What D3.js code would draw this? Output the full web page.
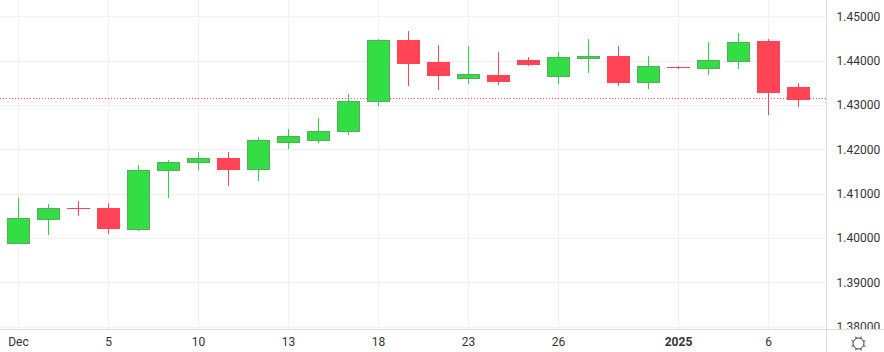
<!DOCTYPE html>
<html>
<head>
<meta charset="utf-8">
<script src="https://cdn.jsdelivr.net/npm/d3@7"></script>
<style>
  html, body { margin: 0; padding: 0; background: #fff; overflow: hidden; }
  text { font-family: Roboto, sans-serif; }
</style>
</head>
<body>
<div id="chart"></div>
<script>
const dates = ["12-02","12-03","12-04","12-05","12-06","12-09","12-10","12-11","12-12","12-13","12-16","12-17","12-18","12-19","12-20","12-23","12-24","12-25","12-26","12-27","12-30","12-31","01-01","01-02","01-03","01-06","01-07"];
const opens = [1.39873,1.40412,1.40669,1.40669,1.40209,1.41517,1.41697,1.41804,1.41540,1.42172,1.42210,1.42413,1.43073,1.44466,1.43969,1.43608,1.43676,1.44014,1.43653,1.44037,1.44105,1.43518,1.43856,1.43834,1.43991,1.44443,1.43405];
const highs = [1.40903,1.40766,1.40834,1.40789,1.41645,1.41758,1.41939,1.41939,1.42277,1.42458,1.42706,1.43249,1.44488,1.44669,1.44352,1.44330,1.44193,1.44080,1.44193,1.44488,1.44330,1.44105,1.43879,1.44420,1.44623,1.44488,1.43495];
const lows = [1.39873,1.40067,1.40500,1.40089,1.40157,1.40901,1.41533,1.41172,1.41286,1.42007,1.42142,1.42323,1.42977,1.43427,1.43338,1.43473,1.43450,1.43879,1.43473,1.43721,1.43427,1.43359,1.43811,1.43676,1.43811,1.42773,1.42955];
const closes = [1.40446,1.40669,1.40658,1.40209,1.41533,1.41706,1.41797,1.41562,1.42203,1.42300,1.42413,1.43089,1.44459,1.43953,1.43676,1.43699,1.43541,1.43923,1.44080,1.44105,1.43518,1.43879,1.43834,1.44014,1.44420,1.43292,1.43135];
const priceTicks = [1.38,1.39,1.40,1.41,1.42,1.43,1.44,1.45];
const timeTicks = ["12-02","12-05","12-10","12-13","12-18","12-23","12-26","01-01","01-06"];
const timeLabels = ["Dec","5","10","13","18","23","26","2025","6"];
const lastPrice = 1.43148;

const width = 884, height = 352;
const plotRight = 826.5, plotBottom = 329.5;
const upFill = "#33dd44", upBorder = "#56ab5e", upWick = "#22dd33";
const downFill = "#ff4455";
const gridColor = "#f1f1f1", borderColor = "#dcdcdc", textColor = "#333";
const candleW = 23;

const svg = d3.select("#chart").append("svg")
  .attr("width", width).attr("height", height)
  .style("display", "block");

const x = d3.scalePoint().domain(dates).range([18.5, 798.5]);
const y = d3.scaleLinear().domain([1.38, 1.45]).range([326.7, 16.4]);

// grid
svg.append("g").selectAll("line").data(priceTicks).join("line")
  .attr("x1", 0).attr("x2", plotRight)
  .attr("y1", d => Math.round(y(d)) + 0.5).attr("y2", d => Math.round(y(d)) + 0.5)
  .attr("stroke", gridColor);
svg.append("g").selectAll("line").data(timeTicks).join("line")
  .attr("x1", d => x(d)).attr("x2", d => x(d))
  .attr("y1", 0).attr("y2", plotBottom)
  .attr("stroke", gridColor);

// last price
svg.append("line")
  .attr("x1", 0).attr("x2", plotRight)
  .attr("y1", Math.round(y(lastPrice)) + 0.5).attr("y2", Math.round(y(lastPrice)) + 0.5)
  .attr("stroke", downFill).attr("stroke-dasharray", "1 2");

// candles
const candles = svg.append("g").selectAll("g").data(dates).join("g");
candles.append("line")
  .attr("x1", d => x(d)).attr("x2", d => x(d))
  .attr("y1", (d, i) => y(highs[i])).attr("y2", (d, i) => y(lows[i]))
  .attr("stroke", (d, i) => closes[i] >= opens[i] ? upWick : downFill);
candles.append("rect")
  .attr("x", d => x(d) - candleW / 2 + 0.5)
  .attr("width", candleW - 1)
  .attr("y", (d, i) => Math.round(y(Math.max(opens[i], closes[i]))) + 0.5)
  .attr("height", (d, i) => Math.max(0.01, Math.round(Math.abs(y(opens[i]) - y(closes[i]))) - (Math.abs(y(opens[i]) - y(closes[i])) < 4 ? 1 : 0)))
  .attr("fill", (d, i) => closes[i] >= opens[i] ? upFill : downFill)
  .attr("stroke", (d, i) => closes[i] >= opens[i] ? upBorder : downFill);

// price axis, 1.38000 is cut off by the time scale
const yAxis = svg.append("g")
  .attr("transform", `translate(${plotRight},0)`)
  .call(d3.axisRight(y).tickValues(priceTicks).tickFormat(d3.format(".5f")).tickSize(0).tickPadding(10));
yAxis.select(".domain").remove();
yAxis.selectAll("text").attr("font-size", 12).attr("font-family", "Roboto, sans-serif").attr("fill", textColor);

svg.append("rect").attr("x", plotRight).attr("y", plotBottom).attr("width", width - plotRight).attr("height", height - plotBottom).attr("fill", "#fff");

// time axis
const xAxis = svg.append("g")
  .attr("transform", `translate(-0.5,${plotBottom})`)
  .call(d3.axisBottom(x).tickValues(timeTicks).tickFormat((d, i) => timeLabels[i]).tickSize(0).tickPadding(8));
xAxis.select(".domain").remove();
xAxis.selectAll("text").attr("font-size", 12).attr("font-family", "Roboto, sans-serif").attr("fill", textColor)
  .attr("font-weight", d => d === "01-01" ? 700 : 400);

// borders
svg.append("line").attr("x1", 0).attr("x2", width).attr("y1", plotBottom).attr("y2", plotBottom).attr("stroke", borderColor);
svg.append("line").attr("x1", plotRight).attr("x2", plotRight).attr("y1", 0).attr("y2", height).attr("stroke", borderColor);

// settings icon
const icon = svg.append("g").attr("transform", "translate(858.5,343.5)").attr("fill", "none").attr("stroke", "#333");
icon.append("circle").attr("r", 5.5);
icon.selectAll("line").data(d3.range(8)).join("line")
  .attr("x1", 0).attr("x2", 0).attr("y1", -5.5).attr("y2", -7.5)
  .attr("transform", d => `rotate(${d * 45 + 22.5})`);
</script>
</body>
</html>
